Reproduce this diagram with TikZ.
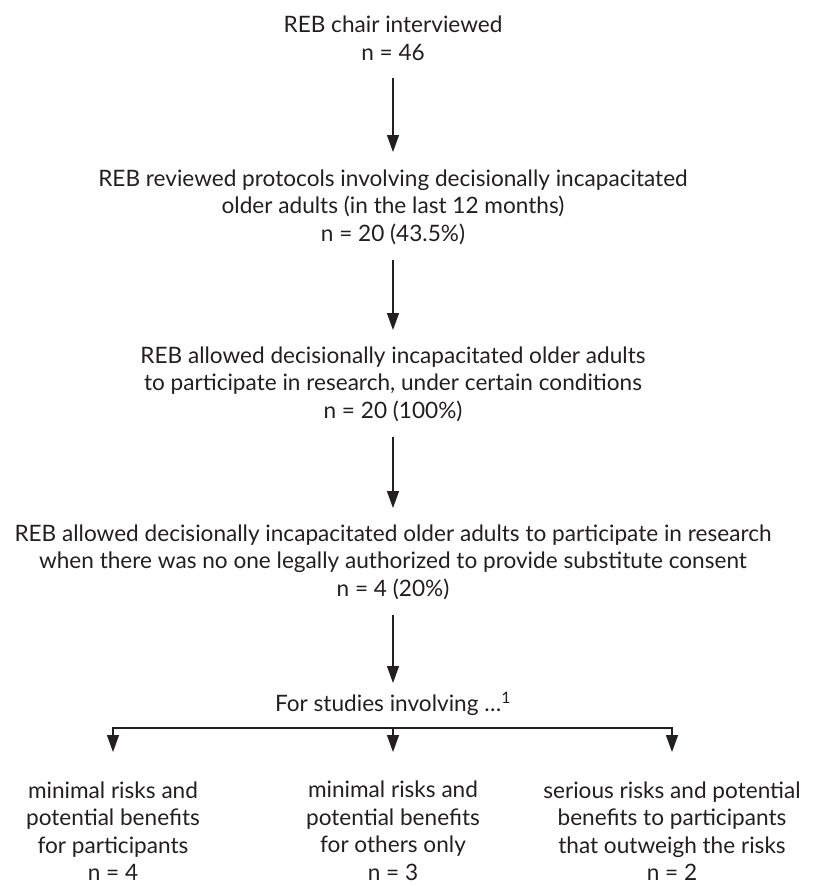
\documentclass[tikz,border=0pt]{standalone}
\usepackage{fontspec}
\setmainfont{Lato}
\usetikzlibrary{arrows.meta}
\definecolor{ink}{HTML}{231F20}
\begin{document}
\begin{tikzpicture}[x=1pt,y=-1pt,
  txt/.style={align=center,text=ink,font=\fontsize{22.6}{27.5}\selectfont,inner sep=0pt},
  flow/.style={draw=ink,line width=1.3pt,-{Triangle[length=17pt,width=12pt]}},
  plain/.style={draw=ink,line width=1.3pt}]
\useasboundingbox (0,0) rectangle (812,886);
\node[txt] (b1) at (393,38.5) {REB chair interviewed\\n = 46};
\node[txt] (b2) at (393,207) {REB reviewed protocols involving decisionally incapacitated\\older adults (in the last 12 months)\\n = 20 (43.5\%)};
\node[txt] (b3) at (393,384) {REB allowed decisionally incapacitated older adults\\to participate in research, under certain conditions\\n = 20 (100\%)};
\node[txt] (b4) at (393,562) {REB allowed decisionally incapacitated older adults to participate in research\\when there was no one legally authorized to provide substitute consent\\n = 4 (20\%)};
\node[txt] (b5) at (393,704) {For studies involving …\textsuperscript{1}};
\node[txt] (c1) at (113,831) {minimal risks and\\potential benefits\\for participants\\n = 4};
\node[txt] (c2) at (393,831) {minimal risks and\\potential benefits\\for others only\\n = 3};
\node[txt] (c3) at (672,831) {serious risks and potential\\benefits to participants\\that outweigh the risks\\n = 2};
\coordinate (hl) at (113,728);
\coordinate (hm) at (393,728);
\coordinate (hr) at (672,728);
\draw[flow] (b1.south) ++(0,17) coordinate (a1s) -- (b2.north |- 0,152);
\draw[flow] (b2.south) ++(0,15) -- (b3.north |- 0,330);
\draw[flow] (b3.south) ++(0,15) -- (b4.north |- 0,508);
\draw[flow] (b4.south) ++(0,15) -- (b5.north |- 0,683);
\draw[plain] ([xshift=-0.65pt]hl) -- ([xshift=0.65pt]hr);
\draw[flow] (hl) -- (c1.north |- 0,752);
\draw[flow] (hm) -- (c2.north |- 0,752);
\draw[flow] (hr) -- (c3.north |- 0,752);
\end{tikzpicture}
\end{document}
